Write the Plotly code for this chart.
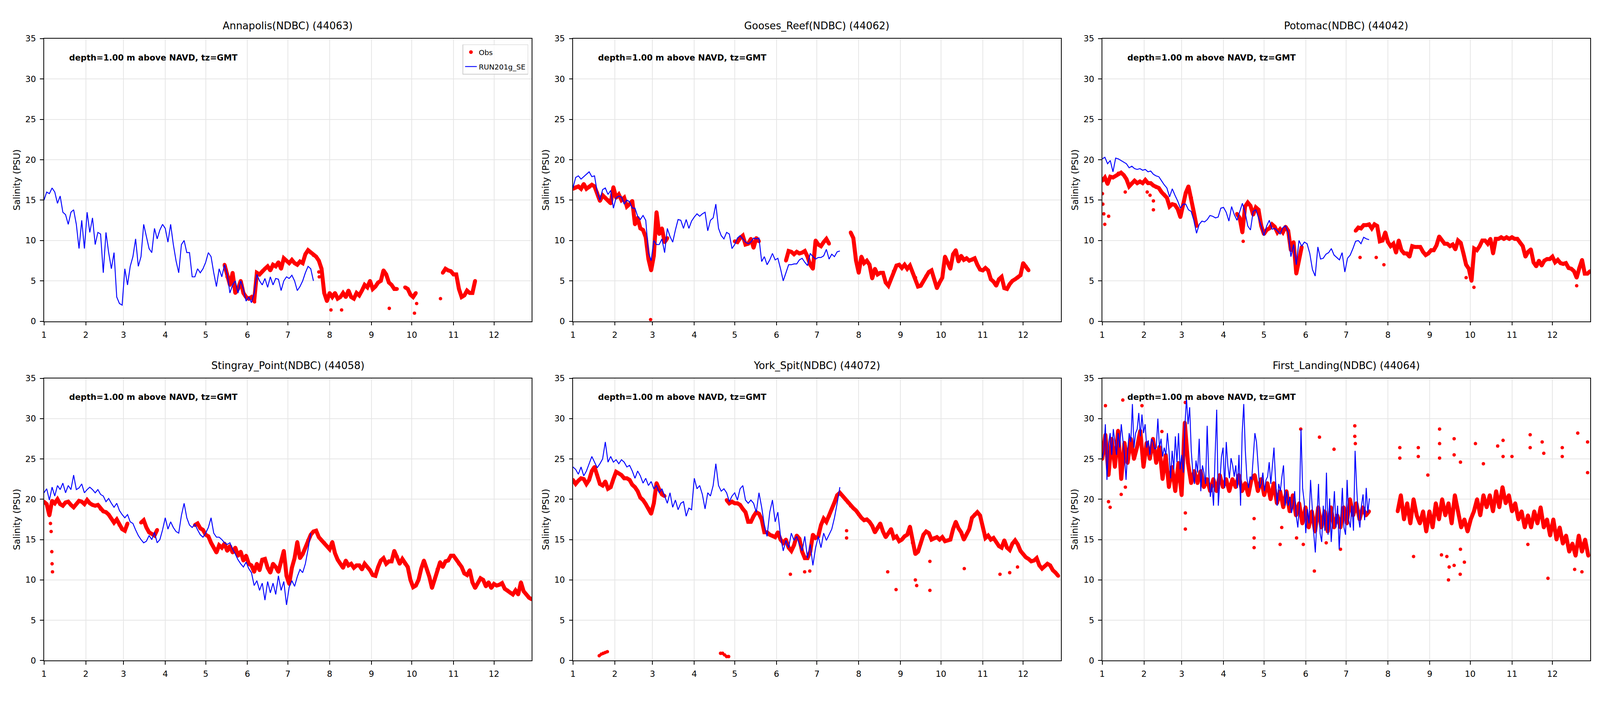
import pandas as pd
import plotly.graph_objects as go

# ---------------- axis / label data ----------------
YEAR_START = pd.Timestamp("2023-01-01")
X_END = "2023-12-29"
MONTH_TICKS = [f"2023-{m:02d}-01" for m in range(1, 13)]
MONTH_LABELS = [str(m) for m in range(1, 13)]
Y_TICKS = [0, 5, 10, 15, 20, 25, 30, 35]
Y_RANGE = [0, 35]

STATION_TITLES = ["Annapolis(NDBC) (44063)", "Gooses_Reef(NDBC) (44062)", "Potomac(NDBC) (44042)",
                  "Stingray_Point(NDBC) (44058)", "York_Spit(NDBC) (44072)", "First_Landing(NDBC) (44064)"]
INFO_TEXT = "depth=1.00 m above NAVD, tz=GMT"
Y_LABEL = "Salinity (PSU)"
OBS_NAME = "Obs"
MODEL_NAME = "RUN201g_SE"

# ---------------- series (time in days since Jan 1; regular sampling t0 + dt*i) ----------------
# Annapolis
ANN_MOD_T0, ANN_MOD_DT = 0, 2
ANN_MOD = [15.0, 16.0, 15.8, 16.5, 16.0, 14.6, 15.5, 13.5, 13.2, 12.0, 13.5, 13.8, 12.0, 9.0, 12.5, 9.0, 13.5, 11.0,
           12.8, 9.5, 11.0, 10.8, 6.0, 11.0, 8.5, 6.5, 8.5, 3.0, 2.2, 2.0, 6.5, 4.5, 6.8, 8.0, 10.2, 6.8, 8.0, 12.0,
           10.5, 9.0, 8.5, 11.5, 10.2, 11.3, 12.0, 11.5, 9.8, 12.0, 9.5, 7.5, 6.0, 9.5, 10.0, 8.5, 8.5, 5.5, 5.5,
           6.5, 6.0, 6.5, 7.3, 8.5, 8.0, 6.0, 4.3, 6.5, 5.5, 7.0, 5.8, 3.5, 4.5, 5.0, 3.5, 5.0, 4.0, 2.5, 3.0, 2.3,
           3.5, 5.8, 5.0, 4.5, 5.3, 4.2, 5.5, 4.5, 5.3, 5.2, 3.8, 5.0, 5.5, 5.3, 5.7, 5.0, 3.8, 4.3, 5.0, 6.0, 6.8,
           6.5, 5.0]
ANN_OBS_T0, ANN_OBS_DT = 134, 2
ANN_OBS = [7.0, 5.5, 4.5, 6.0, 3.5, 4.0, 5.0, 3.5, 3.0, 2.8, 3.0, 2.5, 6.0, 5.8, 6.2, 6.5, 6.8, 6.3, 7.0, 6.8, 7.3,
           6.5, 7.8, 7.5, 7.2, 7.6, 7.2, 7.0, 7.4, 7.2, 8.3, 8.8, 8.5, 8.2, 8.0, 7.5, 6.5, 3.5, 2.5, 3.5, 3.0, 3.5,
           2.8, 3.0, 3.5, 3.0, 3.8, 3.0, 2.8, 3.5, 3.2, 3.8, 4.5, 4.2, 5.0, 4.0, 4.3, 4.8, 5.0, 6.3, 5.8, 4.8, 4.5,
           4.0, 4.0, None, None, 4.2, 4.0, 3.3, 3.0, 3.5, None, None, None, None, None, None, None, None, None,
           6.0, 6.5, 6.3, 6.2, 5.8, 5.8, 4.0, 3.0, 3.2, 3.8, 3.5, 3.5, 5.0]
ANN_OUT_T = [156.3, 204.0, 204.3, 213.0, 220.9, 256.3, 275.0, 276.6, 294.3]
ANN_OUT_V = [2.4, 6.1, 5.5, 1.4, 1.4, 1.6, 1.0, 2.2, 2.8]

# Gooses Reef
GOO_MOD_T0, GOO_MOD_DT = 0, 2
GOO_MOD = [16.5, 17.8, 18.0, 17.6, 17.9, 18.2, 18.5, 17.9, 18.0, 16.0, 15.0, 16.3, 16.5, 15.7, 16.2, 14.0, 15.3,
           15.5, 15.4, 14.5, 15.0, 14.8, 14.0, 14.0, 13.0, 12.6, 13.1, 12.5, 8.5, 7.5, 10.0, 9.5, 9.5, 10.2, 8.5,
           11.5, 10.5, 9.8, 11.3, 12.6, 12.5, 11.5, 12.6, 11.5, 12.4, 12.9, 13.3, 13.0, 13.3, 13.5, 11.2, 12.5,
           12.8, 14.5, 11.5, 10.6, 10.2, 11.0, 10.8, 9.0, 9.5, 10.3, 10.6, 10.2, 9.8, 9.6, 9.8, 10.3, 10.2, 10.3,
           7.4, 8.0, 7.0, 7.6, 8.4, 7.6, 7.8, 6.5, 5.0, 6.0, 7.0, 7.0, 7.1, 7.1, 7.6, 7.8, 7.3, 6.9, 8.4, 8.0, 7.7,
           7.9, 7.9, 8.1, 8.9, 7.7, 8.3, 8.0, 8.6, 8.7]
GOO_OBS_T0, GOO_OBS_DT = 0, 2
GOO_OBS = [16.4, 16.6, 16.7, 16.4, 17.0, 16.4, 16.6, 16.9, 16.7, 15.9, 14.9, 15.6, 15.3, 15.0, 14.6, 16.6, 15.3,
           15.7, 15.0, 15.3, 14.2, 14.5, 14.9, 12.0, 12.8, 11.5, 11.3, 10.4, 7.7, 6.3, 8.1, 13.5, 10.8, 11.5, 9.8,
           10.3] + [None] * 24 + \
          [9.9, 9.8, 10.3, 10.6, 9.5, 9.6, 10.2, 9.1, 10.3, 9.9] + [None] * 9 + \
          [7.5, 8.7, 8.6, 8.3, 8.6, 8.4, 8.5, 8.7, 8.0, 7.0, 6.5, 10.0, 9.5, 9.3, 9.8, 10.2, 9.6] + [None] * 7 + \
          [11.0, 10.3, 7.5, 6.0, 8.0, 7.2, 7.5, 7.0, 5.3, 6.5, 5.8, 6.0, 6.0, 4.8, 4.4, 5.3, 6.2, 6.9, 7.0, 6.6,
           7.0, 6.5, 6.9, 6.0, 5.4, 4.3, 4.4, 5.0, 5.6, 6.1, 6.3, 5.2, 4.1, 4.8, 5.4, 8.0, 7.2, 6.5, 8.3, 8.8, 7.4,
           8.1, 7.6, 7.8, 7.5, 7.6, 7.8, 7.0, 6.4, 6.3, 6.6, 6.3, 5.2, 4.9, 4.4, 5.2, 5.5, 4.1, 4.0, 4.6, 5.0, 5.2,
           5.4, 5.7, 7.2, 6.8, 6.3]
GOO_OUT_T = [57.6]
GOO_OUT_V = [0.2]

# Potomac
POT_MOD_T0, POT_MOD_DT = 0, 2
POT_MOD = [20.1, 20.3, 19.5, 19.9, 18.5, 20.2, 20.1, 19.9, 19.7, 19.5, 19.0, 19.2, 18.9, 18.8, 18.9, 18.7, 18.8,
           18.5, 18.6, 18.2, 18.0, 17.9, 17.4, 16.9, 16.5, 15.4, 16.4, 15.6, 14.9, 14.0, 14.5, 14.5, 13.8, 13.6,
           12.5, 10.9, 12.0, 12.4, 12.3, 12.6, 13.1, 13.0, 12.8, 12.9, 14.0, 14.1, 13.5, 12.4, 14.2, 13.2, 12.5,
           13.5, 14.6, 13.5, 11.8, 11.3, 13.6, 13.8, 12.8, 11.8, 10.6, 11.8, 12.5, 11.4, 11.5, 11.2, 10.8, 11.6,
           11.8, 11.0, 8.0, 9.5, 7.0, 10.0, 9.3, 9.8, 9.6, 8.4, 6.4, 5.6, 9.2, 7.7, 7.8, 8.3, 8.5, 9.0, 8.2, 7.9,
           7.6, 8.5, 6.1, 7.8, 8.2, 9.0, 9.9, 10.0, 9.6, 10.4, 10.2, 10.1]
POT_OBS_T0, POT_OBS_DT = 0, 2
POT_OBS = [17.4, 17.8, 17.0, 17.9, 17.8, 18.0, 18.3, 18.4, 18.1, 17.6, 16.7, 17.1, 17.4, 17.1, 17.3, 17.1, 17.5,
           17.1, 17.1, 16.8, 16.6, 16.5, 16.0, 15.7, 15.3, 14.2, 14.5, 14.4, 13.9, 12.9, 14.5, 15.9, 16.7, 15.3,
           13.5, 11.8] + [None] * 14 + \
          [13.3, 12.8, 11.0, 14.2, 14.7, 14.3, 13.2, 14.1, 13.8, 11.8, 10.8, 11.3, 11.5, 12.0, 11.7, 11.0, 11.4,
           11.0, 11.7, 11.2, 8.8, 9.8, 5.9, 7.8, 9.2] + [None] * 19 + \
          [11.2, 11.6, 11.5, 11.9, 11.9, 12.0, 11.5, 12.0, 11.8, 9.9, 10.0, 11.0, 9.8, 9.3, 9.6, 8.5, 10.0, 8.8,
           8.4, 8.4, 8.0, 9.3, 9.2, 9.2, 9.2, 8.6, 8.2, 8.4, 8.8, 8.8, 9.4, 10.5, 10.0, 9.6, 9.6, 9.3, 9.5, 8.9,
           10.0, 9.7, 8.4, 7.0, 6.5, 5.0, 9.0, 8.8, 9.3, 10.0, 10.0, 9.6, 10.2, 8.4, 10.2, 10.2, 10.4, 10.2, 10.4,
           10.2, 10.4, 10.2, 10.2, 9.7, 9.3, 8.0, 8.6, 8.9, 7.3, 6.8, 7.5, 6.9, 7.5, 7.7, 7.7, 8.0, 7.3, 7.6, 7.2,
           7.1, 7.2, 6.6, 6.5, 6.2, 5.4, 6.6, 7.6, 5.9, 5.9, 6.2]
POT_OUT_T = [0.2, 0.5, 1.2, 1.9, 4.8, 17.1, 33.4, 35.5, 38.0, 38.0, 104.6, 191.3, 203.3, 209.0, 270.0, 275.8, 352.0]
POT_OUT_V = [15.8, 14.5, 13.3, 12.0, 13.0, 16.0, 16.0, 15.6, 14.9, 13.8, 9.9, 7.9, 7.9, 7.0, 5.4, 4.2, 4.4]

# Stingray Point
STI_MOD_T0, STI_MOD_DT = 0, 2
STI_MOD = [20.8, 21.3, 19.9, 21.5, 20.4, 21.7, 21.2, 22.0, 20.8, 21.7, 21.2, 23.0, 21.2, 21.4, 21.9, 20.8, 21.2,
           21.5, 21.2, 20.8, 21.2, 20.6, 20.4, 19.7, 20.1, 19.5, 19.0, 19.5, 18.6, 18.1, 17.7, 18.1, 17.2, 17.0,
           16.2, 15.5, 15.0, 14.6, 14.8, 15.5, 15.0, 15.9, 14.6, 15.0, 16.2, 17.7, 16.3, 17.2, 16.5, 16.0, 15.8,
           18.0, 19.5, 17.7, 16.8, 16.5, 16.9, 16.2, 15.6, 15.3, 15.8, 16.5, 17.7, 15.8, 15.3, 15.3, 15.0, 14.6,
           14.4, 14.6, 13.8, 13.2, 12.5, 12.0, 11.6, 12.2, 11.4, 10.9, 9.3, 9.9, 8.7, 9.6, 7.5, 9.8, 8.4, 9.6, 8.2,
           10.5, 8.7, 9.8, 6.9, 9.1, 9.9, 9.2, 10.4, 11.3, 10.9, 12.0, 13.8, 15.8]
STI_OBS_T0, STI_OBS_DT = 0, 2
STI_OBS = [19.7, 19.4, 18.0, 19.8, 19.5, 20.0, 19.4, 19.2, 19.6, 19.7, 19.3, 19.0, 19.4, 19.8, 19.7, 19.4, 19.9,
           19.5, 19.3, 19.2, 19.3, 18.8, 18.5, 18.4, 18.1, 17.6, 17.1, 17.5, 16.8, 16.3, 16.1, 17.0] + [None] * 4 + \
          [17.1, 17.4, 16.5, 15.9, 15.7, 15.5, 16.2] + [None] * 13 + \
          [16.8, 17.0, 16.4, 16.2, 15.6, 15.4, 14.6, 14.0, 13.4, 14.3, 14.0, 14.5, 13.6, 14.2, 13.4, 14.0, 13.0,
           13.5, 12.4, 13.0, 12.0, 11.8, 11.0, 12.0, 11.2, 12.5, 12.6, 11.5, 10.9, 12.0, 11.6, 11.0, 12.2, 13.6,
           10.5, 9.5, 11.5, 12.7, 14.7, 12.7, 13.2, 14.0, 14.9, 15.6, 16.0, 16.1, 15.3, 14.9, 14.6, 14.2, 13.8,
           14.7, 13.3, 12.5, 12.0, 11.5, 12.4, 11.8, 12.0, 11.5, 11.8, 11.8, 11.3, 12.0, 11.6, 11.2, 10.6, 10.5,
           11.6, 12.4, 12.7, 12.0, 12.3, 12.3, 13.6, 12.9, 12.0, 12.6, 12.0, 11.6, 10.0, 9.1, 9.3, 10.0, 11.4,
           12.4, 11.4, 10.4, 9.0, 10.0, 11.3, 12.2, 11.6, 12.3, 12.4, 13.0, 13.0, 12.5, 12.0, 11.6, 10.8, 10.6,
           11.2, 9.7, 9.0, 9.6, 10.2, 10.0, 9.2, 9.7, 9.0, 9.5, 9.3, 9.4, 9.6, 8.9, 8.7, 8.4, 8.2, 8.7, 8.2, 9.7,
           8.6, 8.2, 7.8, 7.6]
STI_OUT_T = [4.8, 5.3, 5.8, 6.0, 6.3]
STI_OUT_V = [17.0, 16.0, 13.5, 12.0, 11.0]

# York Spit
YOR_MOD_T0, YOR_MOD_DT = 0, 2
YOR_MOD = [24.0, 23.7, 23.1, 24.0, 22.9, 23.5, 24.4, 25.3, 24.6, 23.9, 24.4, 25.0, 27.1, 24.6, 25.3, 24.6, 24.9,
           24.4, 24.9, 24.6, 24.0, 24.2, 23.5, 22.6, 23.5, 22.9, 22.0, 22.6, 21.7, 22.2, 21.3, 21.7, 20.8, 21.3,
           20.4, 19.5, 20.8, 19.0, 19.9, 18.7, 19.5, 19.7, 17.9, 18.9, 18.7, 22.6, 21.3, 21.7, 20.6, 18.8, 20.8,
           20.4, 21.7, 24.4, 21.7, 21.0, 21.3, 20.8, 19.7, 20.4, 20.8, 19.9, 21.3, 21.7, 19.9, 19.5, 19.9, 19.5,
           18.4, 20.8, 19.0, 16.8, 15.4, 18.4, 19.9, 17.2, 18.4, 15.4, 13.6, 14.9, 14.0, 15.8, 14.9, 15.4, 14.4,
           13.6, 15.4, 12.7, 14.4, 11.8, 14.0, 15.4, 14.0, 15.8, 14.9, 15.6, 16.3, 17.7, 19.5, 21.5]
YOR_OBS_T0, YOR_OBS_DT = 0, 2
YOR_OBS = [22.4, 21.9, 22.3, 22.6, 22.5, 21.9, 22.4, 23.5, 24.0, 23.0, 21.9, 21.7, 22.2, 21.3, 21.5, 22.5, 23.4,
           23.2, 23.0, 22.6, 22.6, 22.4, 21.8, 21.5, 21.0, 20.2, 19.9, 19.4, 18.9, 18.2, 19.5, 22.0, 21.2, 20.6,
           20.4] + [None] * 22 + \
          [19.9, 19.5, 19.7, 19.5, 19.5, 19.3, 18.8, 18.4, 17.2, 17.2, 17.9, 18.4, 18.2, 17.5, 15.9, 15.9, 15.6,
           15.5, 15.3, 15.9, 15.0, 14.6, 15.0, 14.0, 13.6, 14.3, 15.5, 15.1, 13.5, 12.7, 12.7, 13.5, 15.6, 15.2,
           15.4, 16.8, 17.6, 17.2, 17.9, 18.8, 19.6, 20.5, 20.8, 20.4, 20.0, 19.6, 19.2, 18.9, 18.6, 18.1, 17.7,
           17.4, 17.5, 17.2, 16.7, 15.9, 16.5, 17.0, 16.0, 15.3, 15.8, 16.3, 15.2, 15.4, 14.8, 15.0, 15.4, 15.6,
           16.6, 14.6, 13.2, 13.5, 14.5, 15.6, 16.0, 15.8, 15.0, 15.2, 15.3, 15.0, 15.3, 14.8, 14.9, 15.0, 16.3,
           17.2, 16.4, 15.9, 15.0, 15.7, 16.3, 17.7, 18.1, 18.4, 18.0, 16.6, 15.2, 15.5, 15.0, 15.2, 14.7, 14.2,
           14.0, 14.9, 14.0, 13.7, 14.5, 14.9, 14.4, 13.6, 13.2, 12.8, 12.6, 12.3, 12.4, 12.7, 11.8, 11.4, 11.7,
           12.0, 11.8, 11.2, 10.9, 10.5]
YOR_OUT_T = [19.5, 21.0, 22.5, 24.0, 25.5, 109.5, 111.0, 112.5, 114.0, 115.5, 161.3, 171.9, 175.7, 203.0, 203.0,
             233.5, 239.7, 254.0, 255.0, 264.8, 264.8, 290.3, 316.8, 324.0, 329.8]
YOR_OUT_V = [0.6, 0.8, 0.9, 1.0, 1.1, 0.9, 0.9, 0.7, 0.5, 0.5, 10.7, 11.0, 11.1, 16.1, 15.2,
             11.0, 8.8, 10.0, 9.3, 8.7, 12.3, 11.4, 10.7, 10.9, 11.6]

# First Landing
FIR_MOD_T0, FIR_MOD_DT = 0, 1.18
FIR_MOD = [25.0, 26.0, 29.3, 22.4, 26.9, 28.2, 25.5, 28.7, 27.1, 25.5, 28.2, 26.4, 29.3, 27.5, 25.5, 22.4, 26.0,
           28.2, 27.1, 31.8, 26.4, 28.2, 28.7, 30.7, 27.8, 30.5, 28.2, 29.3, 26.4, 27.3, 25.5, 27.5, 27.1, 26.2,
           26.4, 30.0, 26.4, 27.5, 25.3, 26.4, 25.5, 28.2, 26.0, 22.6, 26.0, 23.7, 27.8, 24.6, 28.2, 23.7, 25.5,
           23.3, 29.1, 32.5, 29.3, 31.4, 26.0, 23.3, 21.9, 24.8, 23.3, 27.5, 21.0, 24.2, 23.3, 21.9, 29.1, 23.3,
           20.3, 21.9, 19.2, 25.5, 31.1, 19.2, 22.4, 25.3, 26.4, 21.4, 27.1, 24.2, 22.6, 25.1, 24.2, 22.8, 24.2,
           21.4, 25.5, 19.2, 28.2, 31.8, 26.0, 22.6, 21.4, 22.8, 22.4, 25.5, 28.2, 27.1, 24.2, 21.4, 21.9, 23.3,
           21.0, 22.4, 22.8, 24.6, 21.9, 24.2, 26.4, 22.4, 19.2, 21.9, 21.0, 22.8, 24.2, 19.2, 21.0, 19.2, 20.3,
           18.3, 19.2, 21.0, 17.9, 16.5, 19.2, 28.7, 21.4, 19.7, 15.8, 18.8, 17.0, 22.4, 18.8, 15.8, 13.4, 17.4,
           21.9, 15.8, 14.7, 19.2, 16.1, 23.3, 15.6, 20.1, 14.7, 17.9, 21.0, 16.5, 19.2, 13.8, 17.9, 21.4, 16.5,
           15.6, 22.4, 17.4, 16.5, 19.2, 16.1, 26.0, 21.4, 17.9, 16.5, 19.2, 20.6, 17.4, 21.4, 18.3, 20.1]
FIR_OBS_T0, FIR_OBS_DT = 0, 2.357
FIR_OBS = [25.0, 28.0, 23.0, 27.5, 24.0, 28.5, 22.5, 27.0, 24.5, 27.5, 25.0, 26.5, 28.5, 24.0, 27.0, 25.0, 27.5,
           24.5, 26.5, 22.5, 25.5, 21.5, 24.0, 21.0, 24.5, 20.5, 29.5, 24.5, 22.0, 23.5, 22.0, 23.5, 21.5, 22.5,
           21.0, 22.5, 21.0, 23.0, 21.5, 22.5, 21.0, 22.5, 21.5, 23.0, 21.0, 22.0, 20.5, 22.5, 23.0, 21.0, 22.5,
           20.5, 22.0, 20.0, 22.0, 19.5, 21.0, 19.0, 21.0, 18.5, 20.5, 18.0, 19.5, 17.0, 19.0, 16.5, 18.5, 16.0,
           19.0, 16.5, 18.5, 16.0, 19.0, 16.5, 18.0, 16.5, 19.0, 17.0, 20.0, 18.0, 19.5, 17.5, 19.0, 18.0,
           18.5] + [None] * 8 + \
          [18.5, 20.5, 17.5, 19.5, 17.0, 20.0, 18.0, 17.0, 18.5, 16.0, 18.5, 16.5, 19.5, 17.5, 20.0, 18.0, 19.5,
           17.0, 20.5, 18.5, 16.5, 17.5, 16.0, 17.5, 18.5, 20.0, 18.0, 20.5, 19.0, 20.5, 18.5, 21.0, 19.0, 21.5,
           19.5, 20.5, 18.5, 19.5, 17.5, 18.5, 16.5, 18.0, 16.5, 18.5, 17.0, 19.0, 16.5, 17.5, 15.5, 17.5, 15.0,
           16.5, 14.5, 15.5, 13.5, 14.5, 13.0, 15.5, 13.5, 15.0, 13.0]
FIR_OUT_T = [2.4, 15.3, 29.5, 4.7, 5.9, 14.1, 17.2, 44.3, 61.7, 61.7, 61.7, 112.7, 112.7, 112.7, 132.0, 133.2,
             144.2, 147.3, 149.2, 157.4, 161.2, 166.2, 172.0, 176.8, 187.4, 187.4, 187.8, 220.8, 220.8, 234.5,
             234.5, 231.0, 241.6, 250.3, 250.3, 250.3, 256.9, 257.4, 261.1, 261.1, 265.8, 265.8, 265.6, 268.7,
             276.9, 282.8, 293.4, 297.4, 297.4, 304.0, 317.5, 317.5, 326.4, 327.6, 330.7, 341.3, 341.3, 350.5,
             352.8, 355.9, 360.1, 360.1, 255.7, 251.7, 261.1, 315.8]
FIR_OUT_V = [31.6, 32.3, 31.6, 19.7, 19.0, 20.6, 21.5, 28.4, 32.0, 16.3, 18.3, 17.6, 15.2, 14.0, 14.4, 16.5,
             15.2, 28.7, 14.4, 11.1, 27.7, 14.6, 26.2, 13.8, 29.1, 27.8, 26.9, 26.4, 25.1, 26.4,
             25.3, 12.9, 23.0, 28.7, 26.9, 25.1, 10.0, 11.6, 27.5, 25.5, 24.6, 13.8, 10.7, 12.2,
             26.9, 24.4, 26.6, 27.3, 25.3, 25.3, 28.0, 26.4, 27.1, 25.7, 10.2, 26.4, 25.3, 11.3,
             28.2, 11.0, 27.1, 23.3, 12.9, 13.1, 11.8, 14.4]

PANELS = [
    (ANN_MOD_T0, ANN_MOD_DT, ANN_MOD, ANN_OBS_T0, ANN_OBS_DT, ANN_OBS, ANN_OUT_T, ANN_OUT_V),
    (GOO_MOD_T0, GOO_MOD_DT, GOO_MOD, GOO_OBS_T0, GOO_OBS_DT, GOO_OBS, GOO_OUT_T, GOO_OUT_V),
    (POT_MOD_T0, POT_MOD_DT, POT_MOD, POT_OBS_T0, POT_OBS_DT, POT_OBS, POT_OUT_T, POT_OUT_V),
    (STI_MOD_T0, STI_MOD_DT, STI_MOD, STI_OBS_T0, STI_OBS_DT, STI_OBS, STI_OUT_T, STI_OUT_V),
    (YOR_MOD_T0, YOR_MOD_DT, YOR_MOD, YOR_OBS_T0, YOR_OBS_DT, YOR_OBS, YOR_OUT_T, YOR_OUT_V),
    (FIR_MOD_T0, FIR_MOD_DT, FIR_MOD, FIR_OBS_T0, FIR_OBS_DT, FIR_OBS, FIR_OUT_T, FIR_OUT_V),
]

# ---------------- layout geometry (reference frame 6000x1800; figure fills the viewport) ----------------
W, H = 6000, 1800
S = 4096 / 6000          # CSS px per reference px in the photographed viewport
COLS_PX = [(155, 1987), (2142, 3975), (4130, 5963)]
ROWS_PX = [(88, 822), (970, 1703)]

OBS_COLOR = "#ff0000"
MOD_COLOR = "#0000ff"
FONT = "DejaVu Sans"


def grid_times(t0, dt, n):
    return [YEAR_START + pd.Timedelta(days=t0 + dt * i) for i in range(n)]


def days_to_times(days):
    return [YEAR_START + pd.Timedelta(days=d) for d in days]


fig = go.Figure()
annotations = []

for i, (mt0, mdt, mv, ot0, odt, ov, out_t, out_v) in enumerate(PANELS):
    r, c = divmod(i, 3)
    xa = "x" if i == 0 else f"x{i + 1}"
    ya = "y" if i == 0 else f"y{i + 1}"
    first = (i == 0)
    obs_t = grid_times(ot0, odt, len(ov))
    fig.add_trace(go.Scatter(x=obs_t, y=ov, mode="lines", line=dict(color=OBS_COLOR, width=15 * S),
                             showlegend=False, hoverinfo="skip", xaxis=xa, yaxis=ya))
    fig.add_trace(go.Scatter(x=obs_t, y=ov, mode="markers", name=OBS_NAME,
                             marker=dict(color=OBS_COLOR, size=14 * S, line=dict(width=0)),
                             showlegend=first, legendgroup="obs", xaxis=xa, yaxis=ya))
    fig.add_trace(go.Scatter(x=days_to_times(out_t), y=out_v, mode="markers", name=OBS_NAME,
                             marker=dict(color=OBS_COLOR, size=13 * S, line=dict(width=0)),
                             showlegend=False, legendgroup="obs", xaxis=xa, yaxis=ya))
    fig.add_trace(go.Scatter(x=grid_times(mt0, mdt, len(mv)), y=mv, mode="lines", name=MODEL_NAME,
                             line=dict(color=MOD_COLOR, width=3.5 * S),
                             showlegend=first, legendgroup="mod", xaxis=xa, yaxis=ya))

    x0, x1 = COLS_PX[c]
    y0, y1 = ROWS_PX[r]
    xdom = [x0 / W, x1 / W]
    ydom = [1 - y1 / H, 1 - y0 / H]
    axis_common = dict(showline=True, linewidth=3 * S, linecolor="black", mirror=True,
                       ticks="outside", ticklen=12 * S, tickwidth=3 * S, tickcolor="black",
                       showgrid=True, gridcolor="#e6e6e6", gridwidth=2.5 * S, zeroline=False,
                       tickfont=dict(family=FONT, size=31.5 * S, color="black"),
                       ticklabelstandoff=round(9 * S))
    xkey = "xaxis" if i == 0 else f"xaxis{i + 1}"
    ykey = "yaxis" if i == 0 else f"yaxis{i + 1}"
    fig.update_layout(**{
        xkey: dict(domain=xdom, anchor=ya, type="date", range=[YEAR_START.strftime("%Y-%m-%d"), X_END],
                   tickmode="array", tickvals=MONTH_TICKS, ticktext=MONTH_LABELS, **axis_common),
        ykey: dict(domain=ydom, anchor=xa, range=Y_RANGE, tickmode="array", tickvals=Y_TICKS,
                   ticktext=[str(v) for v in Y_TICKS], **axis_common),
    })
    annotations.append(dict(text=STATION_TITLES[i], x=(x0 + x1) / 2 / W, y=1 - (y0 - 33) / H,
                            xref="paper", yref="paper", xanchor="center", yanchor="middle",
                            showarrow=False, font=dict(family=FONT, size=38 * S, color="black")))
    annotations.append(dict(text=Y_LABEL, x=(x0 - 103) / W, y=1 - (y0 + y1) / 2 / H, textangle=-90,
                            xref="paper", yref="paper", xanchor="center", yanchor="middle",
                            showarrow=False, font=dict(family=FONT, size=34 * S, color="black")))
    annotations.append(dict(text=f"<b>{INFO_TEXT}</b>", x=(x0 + 92) / W, y=1 - (y0 + 49) / H,
                            xref="paper", yref="paper", xanchor="left", yanchor="middle",
                            showarrow=False, font=dict(family=FONT, size=31 * S, color="black")))

fig.update_layout(
    autosize=True, margin=dict(l=0, r=0, t=0, b=0, pad=0),
    paper_bgcolor="white", plot_bgcolor="white",
    font=dict(family=FONT, color="black"),
    annotations=annotations,
    legend=dict(x=1974 / W, y=1 - 103 / H, xanchor="right", yanchor="top",
                bgcolor="rgba(255,255,255,0.8)", bordercolor="#cccccc", borderwidth=2 * S,
                font=dict(family=FONT, size=27 * S, color="black")),
)

fig.write_html("out.html", default_width="100vw", default_height="100vh",
               config={"responsive": True, "displayModeBar": False},
               post_script="document.body.style.margin='0';document.body.style.overflow='hidden';"
                           "window.dispatchEvent(new Event('resize'));")
